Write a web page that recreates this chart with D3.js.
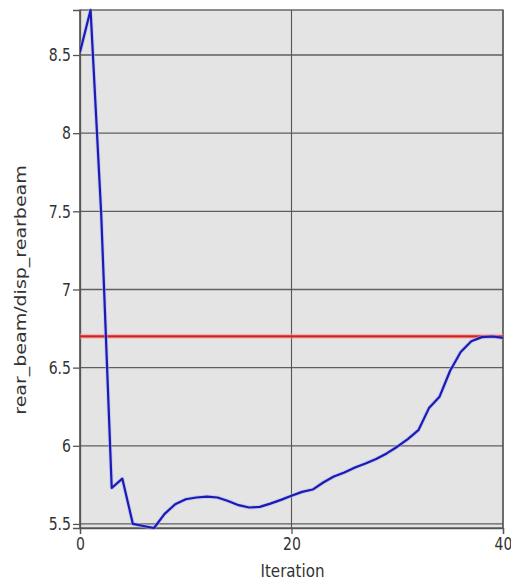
<!DOCTYPE html>
<html>
<head>
<meta charset="utf-8">
<script src="https://cdn.jsdelivr.net/npm/d3@7"></script>
<style>
  html, body { margin: 0; padding: 0; background: #ffffff; }
  svg { display: block; }
  text { font-family: "DejaVu Sans", sans-serif; fill: #333; }
</style>
</head>
<body>
<svg id="chart" width="511" height="580"></svg>
<script>
// Objective history per optimisation iteration
const iterations = d3.range(0, 41);
const dispValues = [
  8.52, 8.788, 7.49, 5.73, 5.79, 5.50, 5.487, 5.474, 5.564, 5.626,
  5.658, 5.669, 5.675, 5.669, 5.647, 5.620, 5.605, 5.609, 5.630, 5.654,
  5.680, 5.705, 5.720, 5.765, 5.803, 5.829, 5.861, 5.887, 5.915, 5.951,
  5.994, 6.043, 6.100, 6.241, 6.314, 6.480, 6.600, 6.669, 6.695, 6.699,
  6.690
];
// Constraint limit
const limitValue = 6.7;

const xTickValues = [0, 20, 40];
const xTickLabels = ["0", "20", "40"];
const yTickValues = [5.5, 6, 6.5, 7, 7.5, 8, 8.5];
const yTickLabels = ["5.5", "6", "6.5", "7", "7.5", "8", "8.5"];

const xTitle = "Iteration";
const yTitle = "rear_beam/disp_rearbeam";

const plot = { left: 80, top: 10, right: 503, bottom: 528 };
const squeeze = 0.78;

const svg = d3.select("#chart");

const x = d3.scaleLinear().domain([0, 40]).range([plot.left, plot.right]);
const y = d3.scaleLinear().domain(d3.extent(dispValues)).range([plot.bottom, plot.top]);

// Plot background
svg.append("rect")
  .attr("x", plot.left).attr("y", plot.top)
  .attr("width", plot.right - plot.left).attr("height", plot.bottom - plot.top)
  .attr("fill", "#e4e4e4");

// Grid lines
svg.append("g").selectAll("line")
  .data(yTickValues).join("line")
  .attr("x1", plot.left).attr("x2", plot.right)
  .attr("y1", d => y(d)).attr("y2", d => y(d))
  .attr("stroke", "#5f5f5f").attr("stroke-width", 1.3);

svg.append("g").selectAll("line")
  .data(xTickValues).join("line")
  .attr("x1", d => x(d)).attr("x2", d => x(d))
  .attr("y1", plot.top).attr("y2", plot.bottom)
  .attr("stroke", "#555").attr("stroke-width", 1.1);

// Frame
svg.append("rect")
  .attr("x", plot.left).attr("y", plot.top)
  .attr("width", plot.right - plot.left).attr("height", plot.bottom - plot.top)
  .attr("fill", "none").attr("stroke", "#555").attr("stroke-width", 1.3);

// Axes
const yAxis = svg.append("g")
  .attr("transform", `translate(${plot.left},0)`)
  .call(d3.axisLeft(y).tickValues(yTickValues)
    .tickFormat((d, i) => yTickLabels[i]).tickSize(7).tickPadding(2));
yAxis.select(".domain").attr("stroke", "#555").attr("stroke-width", 1.3);
yAxis.selectAll(".tick line").attr("stroke", "#555").attr("stroke-width", 1.3);
yAxis.selectAll(".tick text")
  .attr("font-size", 18)
  .attr("fill", "#333")
  .attr("x", -9 / squeeze)
  .attr("transform", `scale(${squeeze},1)`);

const xAxis = svg.append("g")
  .attr("transform", `translate(0,${plot.bottom})`)
  .call(d3.axisBottom(x).tickValues(xTickValues)
    .tickFormat((d, i) => xTickLabels[i]).tickSize(6).tickPadding(2));
xAxis.select(".domain").attr("stroke", "#555").attr("stroke-width", 1.3);
xAxis.selectAll(".tick line").attr("stroke", "#555").attr("stroke-width", 1.3);
xAxis.selectAll(".tick text")
  .attr("font-size", 18)
  .attr("fill", "#333")
  .attr("y", 9)
  .attr("transform", `scale(${squeeze},1)`)
  .each(function () {
    const t = d3.select(this.parentNode).attr("transform");
    const tx = +t.match(/translate\(([-\d.]+)/)[1];
    d3.select(this.parentNode).attr("transform", `translate(${tx},0)`);
  });

// Axis titles
svg.append("text")
  .attr("transform", `translate(${(plot.left + plot.right) / 2 + 1},577) scale(0.84,1)`)
  .attr("text-anchor", "middle")
  .attr("font-size", 18)
  .attr("fill", "#333")
  .text(xTitle);

svg.append("text")
  .attr("transform", `translate(26,${(plot.top + plot.bottom) / 2 + 21}) rotate(-90) scale(1,0.85)`)
  .attr("text-anchor", "middle")
  .attr("font-size", 19)
  .attr("fill", "#444")
  .text(yTitle);

// Series
const clip = svg.append("clipPath").attr("id", "plotClip")
  .append("rect")
  .attr("x", plot.left).attr("y", plot.top - 2)
  .attr("width", plot.right - plot.left).attr("height", plot.bottom - plot.top + 4);

const g = svg.append("g").attr("clip-path", "url(#plotClip)");

// Limit line with soft halo
g.append("line")
  .attr("x1", x(0)).attr("x2", x(40))
  .attr("y1", y(limitValue)).attr("y2", y(limitValue))
  .attr("stroke", "#f2a4a4").attr("stroke-width", 5).attr("opacity", 0.6);
g.append("line")
  .attr("x1", x(0)).attr("x2", x(40))
  .attr("y1", y(limitValue)).attr("y2", y(limitValue))
  .attr("stroke", "#d81f1f").attr("stroke-width", 2.4);

const line = d3.line()
  .x((d, i) => x(iterations[i]))
  .y(d => y(d));

g.append("path")
  .datum(dispValues)
  .attr("d", line)
  .attr("fill", "none")
  .attr("stroke", "#aab0f0")
  .attr("stroke-width", 4)
  .attr("stroke-linejoin", "round")
  .attr("opacity", 0.5);
g.append("path")
  .datum(dispValues)
  .attr("d", line)
  .attr("fill", "none")
  .attr("stroke", "#1a1ab4")
  .attr("stroke-width", 2.2)
  .attr("stroke-linejoin", "round");
</script>
</body>
</html>
